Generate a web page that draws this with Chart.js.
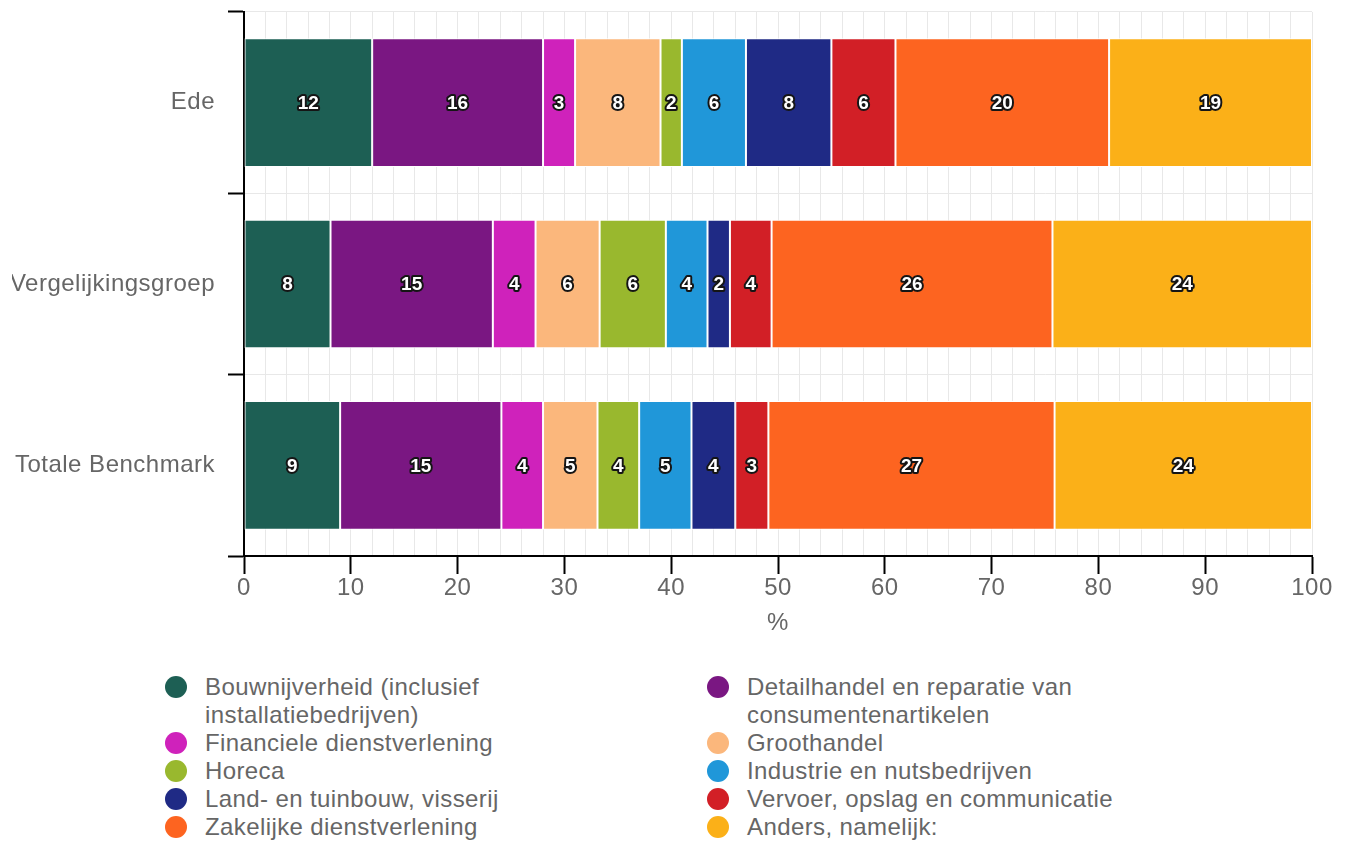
<!DOCTYPE html>
<html><head><meta charset="utf-8">
<script src="https://cdn.jsdelivr.net/npm/chart.js@4/dist/chart.umd.min.js"></script>
<style>
html,body{margin:0;padding:0;background:#fff;width:1352px;height:843px;overflow:hidden;font-family:'Liberation Sans',Arial,sans-serif;}
#wrap{position:absolute;left:0;top:0;width:1352px;height:642px;clip-path:inset(0 0 0 12px);}
#legend{position:absolute;left:165px;top:673px;display:grid;grid-template-columns:542px 520px;color:#666;font-size:24px;line-height:28px;letter-spacing:0.4px;}
.item{display:flex;align-items:flex-start;}
.dot{width:22px;height:22px;border-radius:50%;margin-top:3px;margin-right:18px;flex:none;}
.txt{max-width:400px;}
</style></head><body>
<div id="wrap"><canvas id="c" width="1352" height="642"></canvas></div>
<div id="legend"></div>
<script>
const categories = ['Ede', 'Vergelijkingsgroep', 'Totale Benchmark'];
const sectorLabels = [
  'Bouwnijverheid (inclusief installatiebedrijven)',
  'Detailhandel en reparatie van consumentenartikelen',
  'Financiele dienstverlening',
  'Groothandel',
  'Horeca',
  'Industrie en nutsbedrijven',
  'Land- en tuinbouw, visserij',
  'Vervoer, opslag en communicatie',
  'Zakelijke dienstverlening',
  'Anders, namelijk:'
];
const sectorColors = ['#1d5f54', '#7a1782', '#cf22bb', '#fbb77c', '#99b82e', '#2097d9', '#1f2a85', '#d21f26', '#fd6420', '#fbb018'];
// values per category: [Ede, Vergelijkingsgroep, Totale Benchmark] (%)
const bouwnijverheid = [12, 8.1, 9.0];
const detailhandel   = [16, 15.2, 15.1];
const financieel     = [3, 4.0, 3.9];
const groothandel    = [8, 6.0, 5.1];
const horeca         = [2, 6.2, 3.9];
const industrie      = [6, 3.9, 4.9];
const landbouw       = [8, 2.1, 4.1];
const vervoer        = [6, 3.9, 3.1];
const zakelijk       = [20, 26.3, 26.8];
const anders         = [19, 24.3, 24.1];
const xTickLabels = [0, 10, 20, 30, 40, 50, 60, 70, 80, 90, 100];

const seriesValues = [bouwnijverheid, detailhandel, financieel, groothandel, horeca, industrie, landbouw, vervoer, zakelijk, anders];
const FAM = "'Liberation Sans', Arial, sans-serif";

const labelPlugin = {
  id: 'barLabels',
  beforeDraw(chart) { chart.ctx.letterSpacing = '0.5px'; },
  afterDatasetsDraw(chart) {
    const ctx = chart.ctx;
    ctx.save();
    ctx.letterSpacing = '0px';
    ctx.font = 'bold 19px ' + FAM;
    ctx.textAlign = 'center';
    ctx.textBaseline = 'middle';
    ctx.lineJoin = 'round';
    chart.data.datasets.forEach((ds, di) => {
      const meta = chart.getDatasetMeta(di);
      meta.data.forEach((el, i) => {
        const p = el.getProps(['x', 'y', 'base'], true);
        const cx = (p.x + p.base) / 2;
        const txt = String(Math.round(ds.data[i]));
        ctx.lineWidth = 4;
        ctx.strokeStyle = '#151515';
        ctx.strokeText(txt, cx, p.y + 1);
        ctx.fillStyle = '#fff';
        ctx.fillText(txt, cx, p.y + 1);
      });
    });
    ctx.restore();
  }
};

const chart = new Chart(document.getElementById('c'), {
  type: 'bar',
  data: {
    labels: categories,
    datasets: sectorLabels.map((lab, k) => ({
      label: lab,
      data: seriesValues[k],
      backgroundColor: sectorColors[k],
      borderColor: '#ffffff',
      borderWidth: 1,
      borderSkipped: false,
      barPercentage: 0.71,
      categoryPercentage: 1.0
    }))
  },
  options: {
    indexAxis: 'y',
    responsive: false,
    animation: false,
    devicePixelRatio: 1,
    layout: { padding: { left: 0, right: 40, top: 12, bottom: 0 } },
    plugins: { legend: { display: false }, tooltip: { enabled: false } },
    scales: {
      x: {
        stacked: true, min: 0, max: 100,
        ticks: {
          stepSize: 2, autoSkip: false, maxRotation: 0, padding: 0,
          color: '#666', font: { size: 24, family: FAM },
          callback: v => xTickLabels.includes(v) ? String(v) : ''
        },
        grid: {
          color: '#e8e8e8', lineWidth: 1, tickLength: 18, tickWidth: 2,
          tickColor: c => (c.tick && xTickLabels.includes(c.tick.value)) ? '#000' : 'rgba(0,0,0,0)'
        },
        border: { color: '#000', width: 2 },
        title: { display: true, text: '%', color: '#666', font: { size: 24, family: FAM }, padding: { top: 4, bottom: 4 } },
        afterFit(s) { s.height = 86; s.paddingLeft = 0; s.paddingRight = 0; }
      },
      y: {
        stacked: true,
        ticks: { color: '#666', font: { size: 24, family: FAM }, padding: 13 },
        grid: { color: '#e8e8e8', lineWidth: 1, offset: true, tickColor: '#000', tickLength: 16, tickWidth: 2 },
        border: { color: '#000', width: 2 },
        afterFit(s) { s.width = 244; s.paddingTop = 0; s.paddingBottom = 0; }
      }
    }
  },
  plugins: [labelPlugin]
});

const legend = document.getElementById('legend');
chart.data.datasets.forEach(ds => {
  const it = document.createElement('div');
  it.className = 'item';
  const dot = document.createElement('span');
  dot.className = 'dot';
  dot.style.background = ds.backgroundColor;
  const t = document.createElement('span');
  t.className = 'txt';
  t.textContent = ds.label;
  it.appendChild(dot); it.appendChild(t);
  legend.appendChild(it);
});
</script>
</body></html>
